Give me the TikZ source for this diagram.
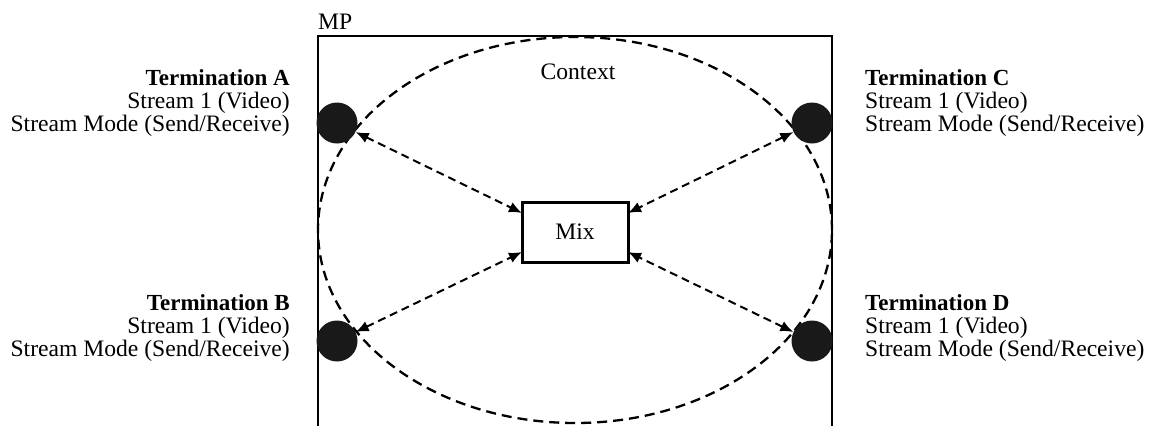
\documentclass[tikz,border=0pt]{standalone}
\usepackage{fontspec}
\setmainfont{Liberation Serif}
\usetikzlibrary{arrows.meta}
\newcommand{\ttl}[1]{{\fontsize{23}{23}\selectfont\textbf{#1}}}
\begin{document}
\begin{tikzpicture}[x=1pt,y=1pt,
  lbl/.style={inner sep=0pt,font=\fontsize{23.6}{23}\selectfont},
  term/.style={circle,fill=black!90,draw=none,minimum size=41pt,inner sep=0pt},
  link/.style={dashed,dash pattern=on 8pt off 5pt,line width=2pt,{Latex[length=13pt,width=11pt]}-{Latex[length=13pt,width=11pt]}},
  mixbox/.style={draw,line width=3pt,minimum width=106pt,minimum height=60pt,inner sep=0pt,font=\fontsize{23.6}{23}\selectfont}]
\useasboundingbox (0,0) rectangle (1152,-426);
% MP box (open at bottom)
\draw[line width=2.8pt] (318,-426) -- (318,-36) -- (832,-36) -- (832,-426);
\node[lbl,anchor=south west] (mp) at (318,-30) {MP};
% Context ellipse
\draw[dashed,dash pattern=on 10pt off 6pt,line width=2.3pt] (575,-230) ellipse [x radius=257, y radius=193];
\node[lbl] (ctx) at (578,-72) {Context};
% Mix
\node[mixbox] (mix) at (575,-232) {Mix};
\coordinate (mlt) at (522,-213);
\coordinate (mlb) at (522,-252);
\coordinate (mrt) at (628,-213);
\coordinate (mrb) at (628,-252);
% Terminations
\node[term] (A) at (337,-123) {};
\node[term] (B) at (337,-341) {};
\node[term] (C) at (812,-123) {};
\node[term] (D) at (812,-341) {};
% Labels
\node[lbl,align=right,anchor=north east] (la) at (290,-69) {\ttl{Termination A}\\Stream 1 (Video)\\Stream Mode (Send/Receive)};
\node[lbl,align=right,anchor=north east] (lb) at (290,-294) {\ttl{Termination B}\\Stream 1 (Video)\\Stream Mode (Send/Receive)};
\node[lbl,align=left,anchor=north west] (lc) at (865,-69) {\ttl{Termination C}\\Stream 1 (Video)\\Stream Mode (Send/Receive)};
\node[lbl,align=left,anchor=north west] (ld) at (865,-294) {\ttl{Termination D}\\Stream 1 (Video)\\Stream Mode (Send/Receive)};
% Links
\draw[link] (A) -- (mlt);
\draw[link] (B) -- (mlb);
\draw[link] (C) -- (mrt);
\draw[link] (D) -- (mrb);
\end{tikzpicture}
\end{document}
